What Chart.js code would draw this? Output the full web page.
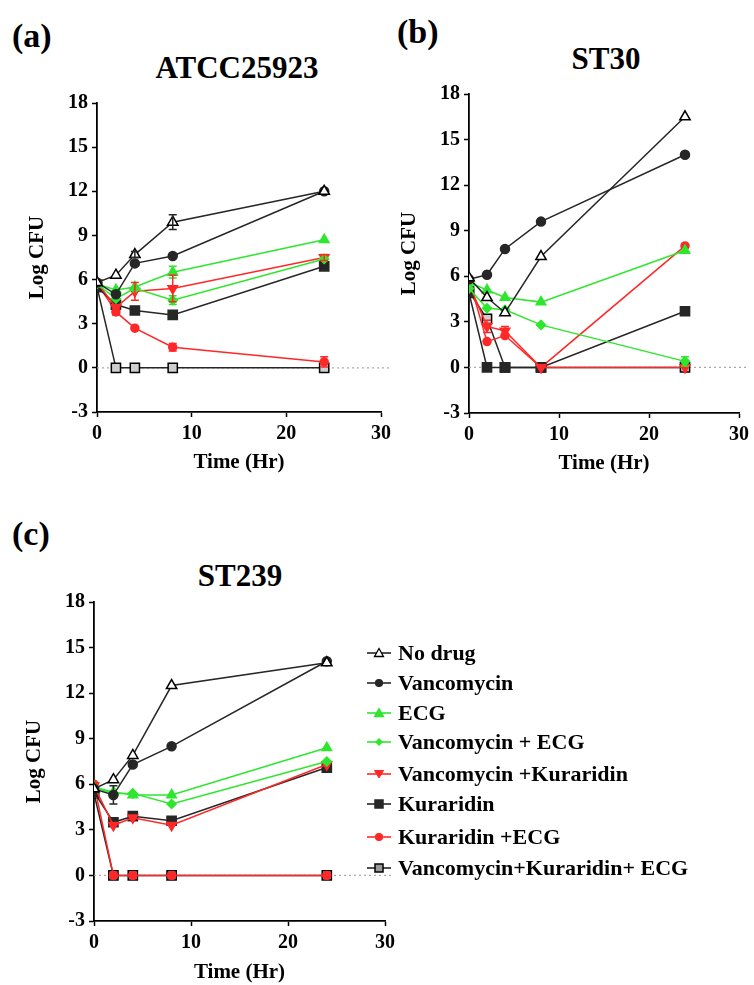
<!DOCTYPE html>
<html>
<head>
<meta charset="utf-8">
<script src="https://cdn.jsdelivr.net/npm/chart.js@4.4.1/dist/chart.umd.min.js"></script>
<style>
  body { margin: 0; background: #fff; width: 754px; height: 985px; position: relative; overflow: hidden;
         font-family: 'Liberation Serif', 'Times New Roman', serif; font-weight: bold; color: #000; }
  canvas { position: absolute; }
  .lbl { position: absolute; font-size: 34px; line-height: 40px; height: 40px; }
  .ttl { position: absolute; font-size: 31px; line-height: 40px; height: 40px; width: 300px; text-align: center; }
  .row { position: absolute; left: 366px; height: 30px; display: flex; align-items: center; white-space: nowrap; font-size: 22px; }
  .row svg { margin-right: 6px; }
</style>
</head>
<body>
<div class="lbl" style="left:12px;top:16px">(a)</div>
<div class="lbl" style="left:397px;top:12px">(b)</div>
<div class="lbl" style="left:12px;top:514px">(c)</div>
<div class="ttl" style="left:87px;top:48px">ATCC25923</div>
<div class="ttl" style="left:456px;top:39px">ST30</div>
<div class="ttl" style="left:90px;top:556px">ST239</div>

<canvas id="chartA" width="400" height="400" style="left:0;top:80px"></canvas>
<canvas id="chartB" width="374" height="410" style="left:380px;top:70px"></canvas>
<canvas id="chartC" width="400" height="405" style="left:0;top:580px"></canvas>
<div id="legend"></div>

<script>
"use strict";

// sampling times (hr)
const times = [0, 2, 4, 8, 24];
const seriesNames = ['No drug', 'Vancomycin', 'ECG', 'Vancomycin + ECG', 'Vancomycin +Kuraridin',
                     'Kuraridin', 'Kuraridin +ECG', 'Vancomycin+Kuraridin+ ECG'];

// (a) ATCC25923, log CFU
const noDrugA = [5.8, 6.3, 7.7, 9.9, 12.0];
const vancA   = [5.8, 5.0, 7.1, 7.6, 12.0];
const ecgA    = [5.7, 5.3, 5.5, 6.5, 8.7];
const vEcgA   = [5.7, 4.7, 5.4, 4.6, 7.4];
const vKurA   = [5.8, 4.1, 5.2, 5.4, 7.5];
const kurA    = [5.5, 4.3, 3.9, 3.6, 6.9];
const kEcgA   = [5.8, 3.8, 2.7, 1.4, 0.4];
const vkeA    = [5.5, 0, 0, 0, 0];

// (b) ST30
const noDrugB = [5.9, 4.6, 3.6, 7.3, 16.5];
const vancB   = [5.8, 6.1, 7.8, 9.6, 14.0];
const ecgB    = [5.6, 5.1, 4.6, 4.3, 7.7];
const vEcgB   = [5.2, 3.9, 3.8, 2.8, 0.4];
const vKurB   = [5.5, 2.7, 2.4, 0, 0];
const kurB    = [4.9, 0, 0, 0, 3.7];
const kEcgB   = [5.8, 1.7, 2.1, 0, 8.0];
const vkeB    = [5.0, 3.2, 0, 0, 0];

// (c) ST239
const noDrugC = [5.7, 6.3, 7.9, 12.5, 14.0];
const vancC   = [5.7, 5.3, 7.3, 8.5, 14.1];
const ecgC    = [5.8, 5.5, 5.3, 5.3, 8.4];
const vEcgC   = [5.8, 5.4, 5.4, 4.7, 7.5];
const vKurC   = [5.9, 3.3, 3.8, 3.3, 7.3];
const kurC    = [5.5, 3.5, 3.9, 3.6, 7.1];
const kEcgC   = [6.0, 0, 0, 0, 0];
const vkeC    = [5.4, 0, 0, 0, 0];

// error bars (SD), null = none drawn
const errA = [[0, 0, 0.2, 0.5, 0], null, [0, 0, 0, 0.4, 0], [0, 0, 0, 0.3, 0],
              [0, 0, 0.6, 0.9, 0.2], null, [0, 0.2, 0, 0.25, 0.35], null];
const errB = [null, null, null, [0, 0, 0, 0, 0.3], [0, 0.4, 0.3, 0, 0], null, null, null];
const errC = [null, [0, 0.6, 0, 0, 0], null, null, null, null, null, null];

const black = '#262626', green = '#2ee62e', red = '#ff2828';
const styles = [
    { color: black, point: 'triangle', fill: '#fff', edge: '#000', r: 6 },
    { color: black, point: 'circle', fill: black, edge: black, r: 4.5 },
    { color: green, point: 'triangle', fill: green, edge: green, r: 5.5 },
    { color: green, point: 'rectRot', fill: green, edge: green, r: 4.5 },
    { color: red, point: 'triangle', fill: red, edge: red, r: 5.5, rot: 180 },
    { color: black, point: 'rect', fill: black, edge: black, r: 6.5 },
    { color: red, point: 'circle', fill: red, edge: red, r: 4 },
    { color: black, point: 'rect', fill: '#cfcfcf', edge: '#000', r: 6.5 }
];

Chart.defaults.font.family = "'Liberation Serif', 'Times New Roman', serif";
Chart.defaults.font.weight = 'bold';
Chart.defaults.color = '#000';

// dotted line at log CFU = 0
const zeroLine = {
    id: 'zeroLine',
    beforeDatasetsDraw(chart) {
        const { ctx, chartArea, scales } = chart;
        const py = scales.y.getPixelForValue(0);
        ctx.save();
        ctx.strokeStyle = '#aaaaaa';
        ctx.lineWidth = 1.2;
        ctx.setLineDash([2, 3]);
        ctx.beginPath();
        ctx.moveTo(chartArea.left, py);
        ctx.lineTo(chartArea.right + 8, py);
        ctx.stroke();
        ctx.restore();
    }
};

const errorBars = {
    id: 'errorBars',
    afterDatasetsDraw(chart) {
        const { ctx, scales } = chart;
        ctx.save();
        chart.data.datasets.forEach(ds => {
            if (!ds.errors) return;
            ctx.strokeStyle = ds.borderColor;
            ctx.lineWidth = 1.5;
            ds.data.forEach((p, i) => {
                const e = ds.errors[i];
                if (!e) return;
                const px = scales.x.getPixelForValue(p.x);
                const top = scales.y.getPixelForValue(p.y + e);
                const bot = scales.y.getPixelForValue(p.y - e);
                ctx.beginPath();
                ctx.moveTo(px, top); ctx.lineTo(px, bot);
                ctx.moveTo(px - 4, top); ctx.lineTo(px + 4, top);
                ctx.moveTo(px - 4, bot); ctx.lineTo(px + 4, bot);
                ctx.stroke();
            });
        });
        ctx.restore();
    }
};

function makePanel(id, series, errs, pad, xHeight) {
    return new Chart(document.getElementById(id), {
        type: 'line',
        data: {
            datasets: series.map((vals, i) => ({
                label: seriesNames[i],
                data: times.map((t, j) => ({ x: t, y: vals[j] })),
                borderColor: styles[i].color,
                backgroundColor: styles[i].fill,
                pointBackgroundColor: styles[i].fill,
                pointBorderColor: styles[i].edge,
                pointStyle: styles[i].point,
                pointRotation: styles[i].rot || 0,
                pointRadius: styles[i].r,
                pointBorderWidth: 1.5,
                borderWidth: 1.5,
                tension: 0,
                errors: errs[i]
            }))
        },
        options: {
            responsive: false,
            animation: false,
            layout: { padding: pad },
            plugins: { legend: { display: false }, tooltip: { enabled: false } },
            scales: {
                x: {
                    type: 'linear', min: 0, max: 30,
                    ticks: { stepSize: 10, padding: 5, maxRotation: 0, font: { size: 20, weight: 'bold' } },
                    grid: { drawOnChartArea: false, tickLength: 5, tickColor: '#000', tickWidth: 1.5 },
                    border: { color: '#000', width: 1.8 },
                    title: { display: true, text: 'Time (Hr)', padding: 0, font: { size: 21, weight: 'bold' } },
                    afterFit: s => { s.height = xHeight; }
                },
                y: {
                    min: -3, max: 18,
                    ticks: { stepSize: 3, padding: 4, font: { size: 20, weight: 'bold' } },
                    grid: { drawOnChartArea: false, tickLength: 5, tickColor: '#000', tickWidth: 1.5 },
                    border: { color: '#000', width: 1.8 },
                    title: { display: true, text: 'Log CFU', padding: 0, font: { size: 21, weight: 'bold' } },
                    afterFit: s => { s.width = 72; }
                }
            }
        },
        plugins: [zeroLine, errorBars]
    });
}

makePanel('chartA', [noDrugA, vancA, ecgA, vEcgA, vKurA, kurA, kEcgA, vkeA], errA,
    { left: 25, right: 19, top: 23, bottom: 5 }, 63);
makePanel('chartB', [noDrugB, vancB, ecgB, vEcgB, vKurB, kurB, kEcgB, vkeB], errB,
    { left: 17, right: 11, top: 24, bottom: 4 }, 63);
makePanel('chartC', [noDrugC, vancC, ecgC, vEcgC, vKurC, kurC, kEcgC, vkeC], errC,
    { left: 22, right: 15, top: 22, bottom: 0 }, 64);

// legend for panel (c)
function markerSvg(s) {
    const cx = 13, cy = 8;
    let shape;
    if (s.point === 'circle') {
        shape = `<circle cx="${cx}" cy="${cy}" r="3.5" fill="${s.fill}" stroke="${s.edge}" stroke-width="1.2"/>`;
    } else if (s.point === 'rect') {
        shape = `<rect x="${cx - 4}" y="${cy - 4}" width="8" height="8" fill="${s.fill === '#cfcfcf' ? '#9a9a9a' : s.fill}" stroke="${s.edge}" stroke-width="1.5"/>`;
    } else if (s.point === 'rectRot') {
        shape = `<polygon points="${cx},${cy - 4} ${cx + 4},${cy} ${cx},${cy + 4} ${cx - 4},${cy}" fill="${s.fill}"/>`;
    } else if (s.rot) {
        shape = `<polygon points="${cx - 4.5},${cy - 3.5} ${cx + 4.5},${cy - 3.5} ${cx},${cy + 4}" fill="${s.fill}" stroke="${s.edge}" stroke-width="1"/>`;
    } else {
        shape = `<polygon points="${cx},${cy - 4.5} ${cx + 4.5},${cy + 3.5} ${cx - 4.5},${cy + 3.5}" fill="${s.fill}" stroke="${s.edge}" stroke-width="1.3"/>`;
    }
    return `<svg width="26" height="16"><line x1="1" y1="${cy}" x2="25" y2="${cy}" stroke="${s.color}" stroke-width="1.6"/>${shape}</svg>`;
}

const legendRows = [653, 683, 713, 742, 774, 804, 837, 868];
const legend = document.getElementById('legend');
seriesNames.forEach((name, i) => {
    const row = document.createElement('div');
    row.className = 'row';
    row.style.top = (legendRows[i] - 15) + 'px';
    row.innerHTML = markerSvg(styles[i]) + '<span>' + name + '</span>';
    legend.appendChild(row);
});
</script>
</body>
</html>
